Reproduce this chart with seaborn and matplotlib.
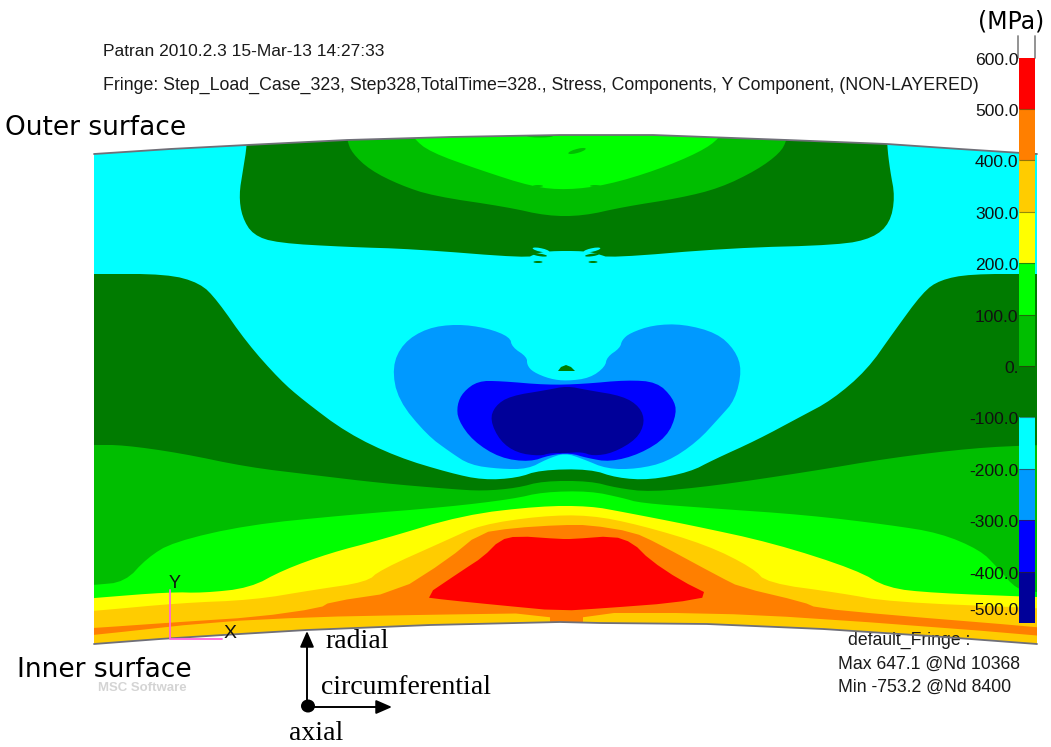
import numpy as np
import pandas as pd
import matplotlib
matplotlib.use("Agg")
import matplotlib.pyplot as plt
from matplotlib.colors import ListedColormap
from matplotlib.patches import Polygon, Ellipse
import seaborn as sns

# ---------- data (contour outlines, image coordinates) ----------
top_arc = [(94,154),(170,149),(247,145),(347,140),(450,137),(560,135),(653,135),(787,140),(887,144),(960,149),(1037,154)]
bottom_arc = [(94,644),(160,639),(223,635),(307,630),(430,625),(560,622),(600,623),(707,624),(823,629),(930,636),(1037,644)]

cap_dark = [(247,120),(247,145),(243,170),(239,195),(242,217),(253,235),(277,243),(347,247),(413,249),(527,258),(535,254),(548,251),(585,251),(598,254),(610,258),(730,248),(840,245),(873,238),(890,223),(895,197),(890,170),(887,145),(887,120)]
cap_mid = [(345,120),(347,140),(352,153),(370,170),(400,185),(433,196),(507,207),(547,216),(583,216),(623,207),(680,198),(720,188),(757,170),(780,153),(787,140),(789,120)]
cap_bright = [(405,120),(413,138),(430,152),(480,170),(533,187),(567,190),(607,185),(657,170),(700,152),(720,138),(728,120)]

low_dark = [(60,274),(94,274),(167,274),(200,283),(217,300),(247,343),(280,380),(303,400),(347,433),(397,457),(450,473),(483,480),(517,478),(540,470),(590,469),(617,478),(650,480),(690,472),(713,460),(757,440),(800,417),(832,400),(867,370),(893,333),(923,292),(940,280),(970,274),(1037,274),(1060,274),(1060,700),(60,700)]
low_mid = [(60,445),(94,445),(123,445),(180,453),(247,467),(313,475),(380,483),(450,489),(483,491),(517,488),(543,481),(590,481),(617,488),(650,492),(713,486),(807,472),(890,458),(973,448),(1037,445),(1060,445),(1060,700),(60,700)]
low_bright = [(60,587),(94,585),(125,582),(147,558),(173,542),(247,525),(347,515),(447,507),(513,499),(543,492),(590,491),(623,498),(640,503),(707,508),(807,515),(890,525),(940,533),(980,550),(997,567),(1017,590),(1037,592),(1060,594),(1060,700),(60,700)]
low_yellow = [(60,601),(94,598),(170,592),(203,593),(250,588),(283,570),(330,553),(380,540),(463,515),(540,506),(590,506),(623,512),(690,525),(773,543),(857,570),(887,588),(933,593),(1037,597),(1060,598),(1060,700),(60,700)]
low_amber = [(60,613),(94,611),(180,603),(253,600),(313,590),(367,582),(380,570),(447,540),(480,525),(540,516),(590,515),(640,525),(707,545),(753,568),(767,583),(840,593),(890,602),(1037,608),(1060,610),(1060,700),(60,700)]
low_orange = [(60,630),(94,628),(180,622),(257,617),(320,608),(330,602),(397,592),(447,560),(480,533),(513,528),(560,525),(590,525),(633,532),(657,543),(720,577),(740,587),(803,602),(817,608),(890,615),(1037,627),(1060,630),(1060,639),(1037,635),(813,618),(707,613),(583,613),(583,630),(550,630),(550,613),(413,615),(313,617),(213,622),(94,635),(60,638)]
low_red = [(423,597),(463,570),(483,557),(500,540),(517,536),(560,539),(573,539),(613,536),(633,543),(650,560),(680,580),(712,596),(673,603),(607,608),(560,611),(497,605),(447,600)]

light_blue = [(510,337),(487,328),(457,324),(427,328),(403,343),(392,367),(398,400),(427,435),(450,452),(470,465),(500,469),(528,469),(547,459),(565,453),(583,459),(607,469),(637,469),(667,462),(697,442),(720,417),(735,400),(742,370),(735,350),(717,333),(683,324),(653,325),(630,333),(622,340),(620,348),(607,357),(605,367),(590,378),(567,381),(550,379),(533,372),(527,365),(527,357),(512,347)]
blue = [(457,405),(463,392),(478,381),(500,381),(547,385),(583,384),(627,380),(657,382),(673,398),(677,413),(667,437),(640,454),(610,462),(587,458),(570,453),(550,455),(530,462),(500,458),(473,441),(458,420)]
navy = [(490,420),(495,406),(510,396),(547,390),(567,386),(587,390),(623,396),(640,407),(645,422),(637,439),(613,453),(593,456),(582,452),(567,453),(550,453),(540,456),(517,453),(500,441)]
spot_dark = [(558,371),(561,367),(566,365),(571,367),(575,371)]

cmap_colors = ["#FF0000","#FF7F00","#FFCC00","#FFFF00","#00FF00","#00BE00","#007B00","#00FFFF","#0099FF","#0000FF","#000099"]
bar_levels = [600,500,400,300,200,100,0,-100,-200,-300,-400]
bar_tick_labels = ["600.0","500.0","400.0","300.0","200.0","100.0","0.","-100.0","-200.0","-300.0","-400.0","-500.0"]
bar_tick_rows = [0.05,1.05,2.05,3.05,4.05,5.05,6.05,7.05,8.05,9.05,10.05,10.75]
specks_cyan = [(541,250,17,3.5,12),(592,250,17,3.5,-12)]
specks_dark = [(540,255,14,2.5,8),(592,255,14,2.5,-8),(538,262,9,2,0),(593,262,9,2,0)]
specks_mid = [(577,151,18,4,-15),(540,136,26,3,0),(538,186,10,2,0),(595,186,10,2,0),(540,210,7,2,0),(550,213,7,2,0),(583,213,7,2,0),(593,210,7,2,0)]
# ---------------------------------------------------------------------------------------

sns.set_theme(style="white")
plt.rcParams["font.family"] = ["Liberation Sans", "DejaVu Sans"]

DARK, MID, BRIGHT = "#007B00", "#00BE00", "#00FF00"

def chaikin(pts, n=2):
    p = np.asarray(pts, float)
    for _ in range(n):
        q = np.roll(p, -1, axis=0)
        p = np.column_stack([0.75*p + 0.25*q, 0.25*p + 0.75*q]).reshape(-1, 2)
    return p

fig = plt.figure(figsize=(10.51, 7.47), dpi=100)
ax = fig.add_axes([0, 0, 1, 1])
ax.set_xlim(0, 1051); ax.set_ylim(747, 0); ax.axis("off")

domain = Polygon(list(top_arc) + list(bottom_arc)[::-1], closed=True, fc="#00FFFF", ec="none", zorder=1)
ax.add_patch(domain)

layers = [(cap_dark,DARK),(cap_mid,MID),(cap_bright,BRIGHT),
          (low_dark,DARK),(low_mid,MID),(low_bright,BRIGHT),(low_yellow,"#FFFF00"),
          (low_amber,"#FFCC00"),(low_orange,"#FF7F00"),(low_red,"#FF0000"),
          (light_blue,"#0099FF"),(blue,"#0000FF"),(navy,"#000099")]
for z, (pts, col) in enumerate(layers):
    sharp = pts is low_orange or pts is low_red
    s = Polygon(chaikin(pts, 1 if sharp else 2), closed=True, fc=col, ec="none", zorder=2+z*0.01)
    ax.add_patch(s); s.set_clip_path(domain)
ax.add_patch(Polygon(spot_dark, closed=True, fc=DARK, ec="none", zorder=3))
for specks, col, zo in ((specks_cyan, "#00FFFF", 3), (specks_dark, DARK, 3.1), (specks_mid, MID, 3.1)):
    for x, y, w, h, a in specks:
        e = Ellipse((x, y), w, h, angle=a, fc=col, ec="none", zorder=zo)
        ax.add_patch(e); e.set_clip_path(domain)

for arc in (top_arc, bottom_arc):
    df = pd.DataFrame(arc, columns=["x", "y"])
    sns.lineplot(data=df, x="x", y="y", sort=False, color="#6f6f78", lw=1.3, ax=ax, zorder=4, legend=False)
ax.set_xlim(0, 1051); ax.set_ylim(747, 0); ax.axis("off")

# colour bar as a heatmap
W, H = 1051, 747
bx0, bx1, by0, by1 = 1019, 1035, 57.5, 623
cax = fig.add_axes([bx0/W, 1-by1/H, (bx1-bx0)/W, (by1-by0)/H], zorder=5)
sns.heatmap(np.array(bar_levels, float).reshape(-1, 1), ax=cax, cbar=False,
            cmap=ListedColormap(cmap_colors[::-1]), vmin=-450, vmax=650,
            linewidths=0, xticklabels=False)
cax.hlines(range(1, 11), 0, 1, colors="#3a2a10", lw=0.8, alpha=0.55)
cax.set_yticks(bar_tick_rows); cax.set_yticklabels(bar_tick_labels, rotation=0, fontsize=12.6, color="#111111")
cax.tick_params(axis="y", length=0, pad=0.3)
cax.set_ylabel("")
ax.plot([1018,1018],[36,58], color="#8a8a8a", lw=1.3, zorder=6)
ax.plot([1035,1035],[36,58], color="#8a8a8a", lw=1.3, zorder=6)

# texts
tc = "#1a1a1a"
ax.text(103, 52, "Patran 2010.2.3 15-Mar-13 14:27:33", fontsize=12.5, color=tc, va="center")
ax.text(103, 85, "Fringe: Step_Load_Case_323, Step328,TotalTime=328., Stress, Components, Y Component, (NON-LAYERED)",
        fontsize=12.8, color=tc, va="center")
ax.text(5, 128, "Outer surface", fontsize=19, family="DejaVu Sans", color="black", va="center")
ax.text(17, 670, "Inner surface", fontsize=19, family="DejaVu Sans", color="black", va="center")
ax.text(1011, 22, "(MPa)", fontsize=17, family="DejaVu Sans", color="black", va="center", ha="center")
ax.text(848, 640, "default_Fringe :", fontsize=12.7, color=tc, va="center")
ax.text(838, 664, "Max 647.1 @Nd 10368", fontsize=12.7, color=tc, va="center")
ax.text(838, 687, "Min -753.2 @Nd 8400", fontsize=12.7, color=tc, va="center")
ax.text(142, 688, "MSC Software", fontsize=9.5, color="#d4d4d4", va="center", ha="center", weight="bold", zorder=0)

# triad
ax.plot([170,170,222],[590,639,639], color="#FF66DD", lw=1.3, zorder=6)
ax.text(175, 583, "Y", fontsize=13, color="#111111", va="center", ha="center", zorder=7)
ax.text(230, 634, "X", fontsize=14, color="#111111", va="center", ha="center", zorder=7)

# direction arrows
serif = "Liberation Serif"
ax.annotate("", xy=(307,631), xytext=(307,706), arrowprops=dict(arrowstyle="-|>,head_length=0.8,head_width=0.35", color="black", lw=1.4, shrinkA=0, shrinkB=0), zorder=7)
ax.annotate("", xy=(392,707), xytext=(307,707), arrowprops=dict(arrowstyle="-|>,head_length=0.8,head_width=0.35", color="black", lw=1.4, shrinkA=0, shrinkB=0), zorder=7)
ax.add_patch(Ellipse((308,706), 14, 13, fc="black", ec="none", zorder=8))
ax.text(325, 642, "radial", fontsize=20, family=serif, color="black", va="center")
ax.text(321, 688, "circumferential", fontsize=20, family=serif, color="black", va="center")
ax.text(289, 734, "axial", fontsize=20, family=serif, color="black", va="center")

fig.savefig("out.png", dpi=100, facecolor="white")
